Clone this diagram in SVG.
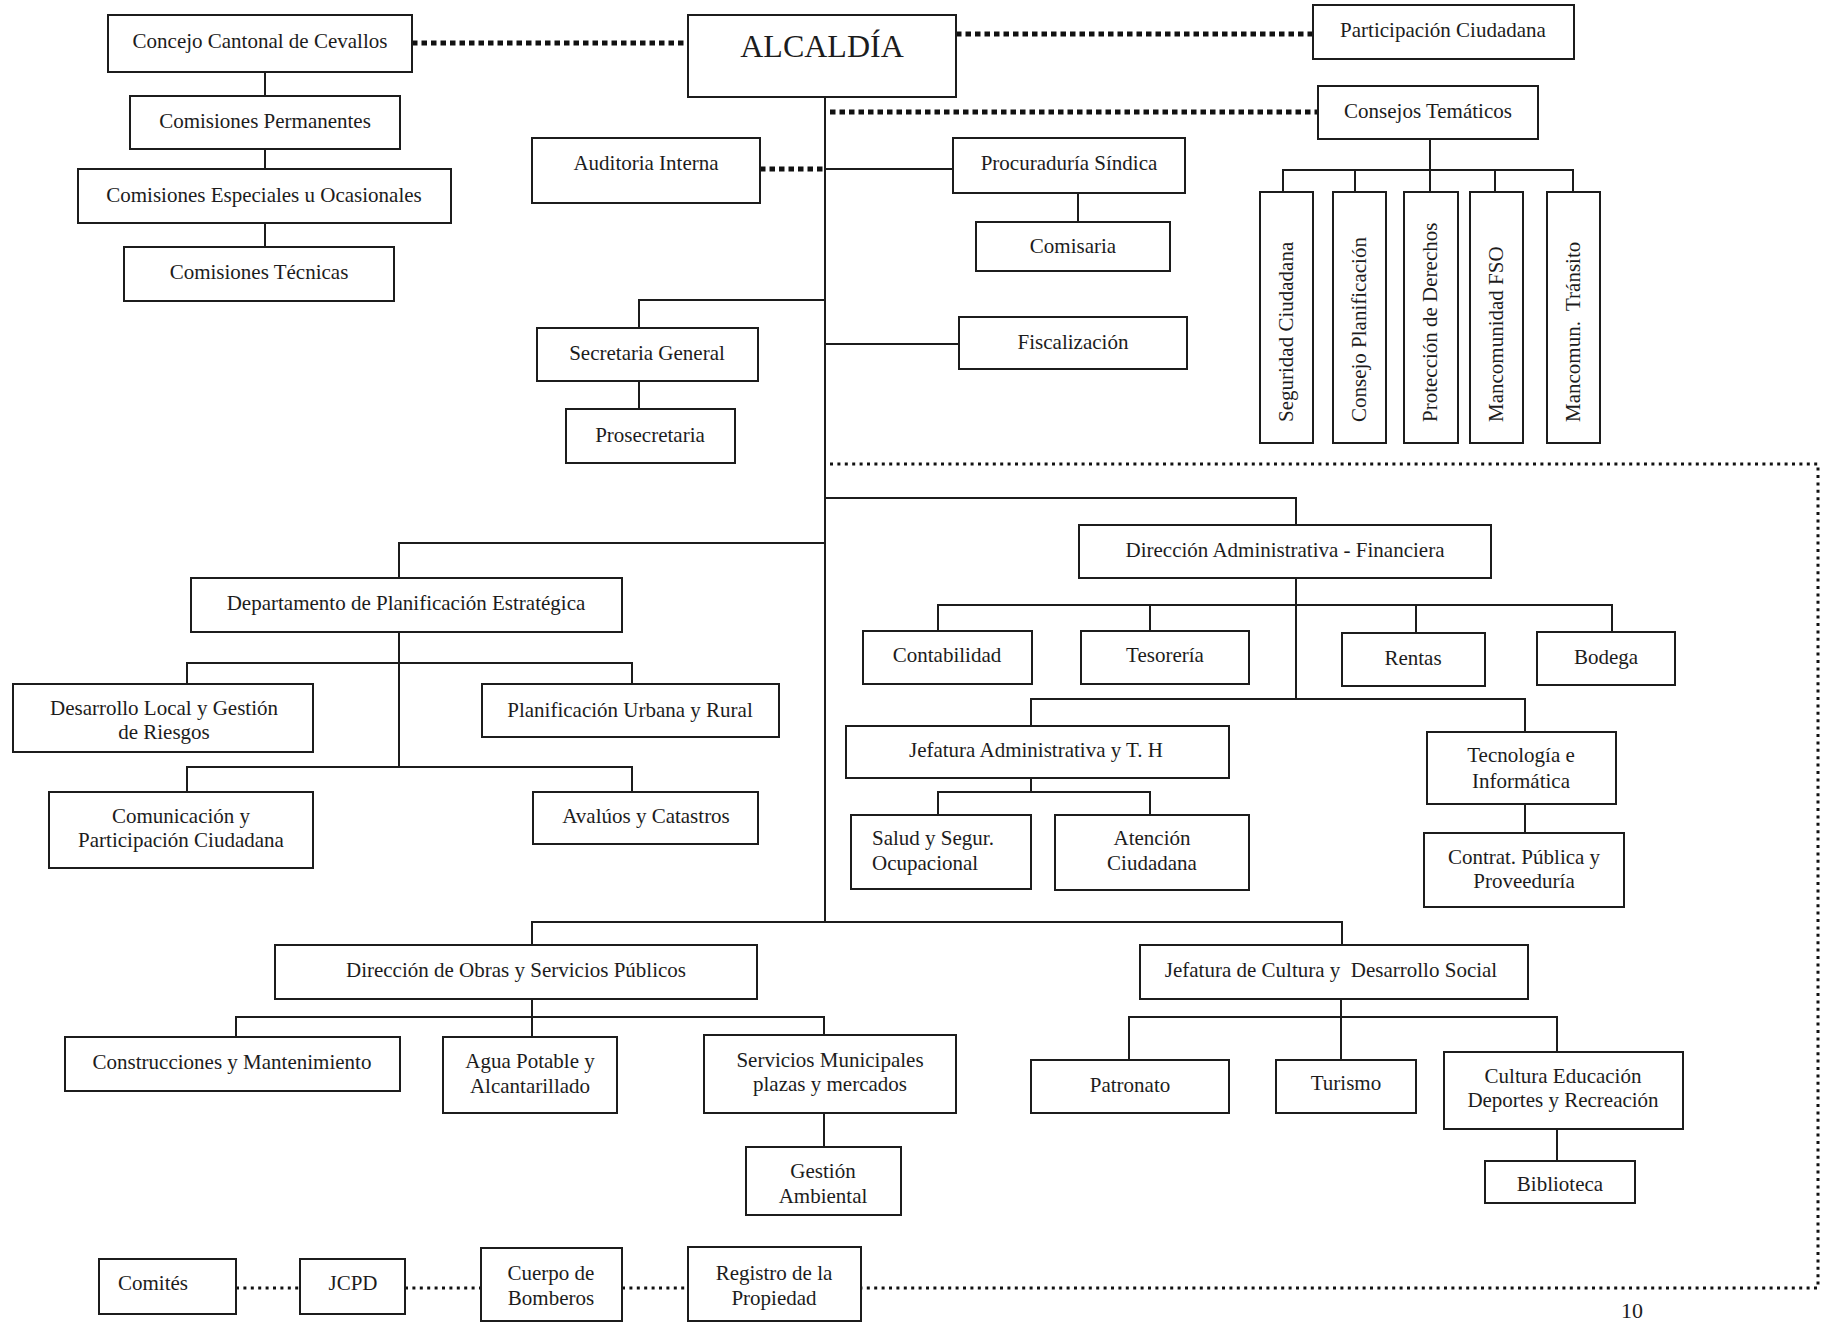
<svg xmlns="http://www.w3.org/2000/svg" width="1822" height="1323" viewBox="0 0 1822 1323">
<style>
.box{fill:#fff;stroke:#1c1c1c;stroke-width:2}
text{font-family:"Liberation Serif","Times New Roman",serif;font-size:21px;fill:#1c1c1c;text-anchor:middle}
.big{font-size:32px}
.v{text-anchor:start;white-space:pre}
.pre{white-space:pre}
.ln{stroke:#1c1c1c;stroke-width:2;fill:none}
.dotB{stroke:#111;stroke-width:5;stroke-dasharray:5.5 4;fill:none}
.dotS{stroke:#111;stroke-width:3;stroke-dasharray:3 4.4;fill:none}
</style>
<rect width="1822" height="1323" fill="#fff"/>
<g id="connectors">
<line class="dotB" x1="412" y1="43" x2="688" y2="43"/>
<line class="dotB" x1="956" y1="34" x2="1313" y2="34"/>
<line class="dotB" x1="830" y1="112" x2="1318" y2="112"/>
<line class="dotB" x1="760" y1="169" x2="825" y2="169"/>
<path class="dotS" d="M830 464 H1818 V1288 H861"/>
<line class="dotS" x1="236" y1="1288" x2="300" y2="1288"/>
<line class="dotS" x1="405" y1="1288" x2="481" y2="1288"/>
<line class="dotS" x1="622" y1="1288" x2="688" y2="1288"/>
<path class="ln" d="M265 72 V96 M265 149 V169 M265 223 V247"/>
<path class="ln" d="M825 97 V922"/>
<path class="ln" d="M825 169 H953 M1078 193 V222 M825 344 H959"/>
<path class="ln" d="M825 300 H639 V328 M639 381 V409"/>
<path class="ln" d="M1430 139 V170 M1283 192 V170 H1573 V192 M1355 170 V192 M1430 170 V192 M1495 170 V192"/>
<path class="ln" d="M825 543 H399 V578 M399 632 V767 M187 684 V663 H632 V684 M187 792 V767 H632 V792"/>
<path class="ln" d="M825 498 H1296 V525 M1296 578 V699 M938 631 V605 H1612 V632 M1150 605 V631 M1416 605 V633"/>
<path class="ln" d="M1031 726 V699 H1525 V732 M1031 778 V792 M938 815 V792 H1150 V815 M1525 804 V833"/>
<path class="ln" d="M532 945 V922 H1342 V945"/>
<path class="ln" d="M532 999 V1017 M236 1037 V1017 H824 V1035 M532 1017 V1037 M824 1113 V1147"/>
<path class="ln" d="M1341 999 V1060 M1129 1060 V1017 H1557 V1052 M1557 1129 V1161"/>
</g>
<g id="concejo"><rect class="box" x="108" y="15" width="304" height="57"/><text x="260" y="48">Concejo Cantonal de Cevallos</text></g>
<g id="alcaldia"><rect class="box" x="688" y="15" width="268" height="82"/><text class="big" x="822" y="57">ALCALDÍA</text></g>
<g id="participacion"><rect class="box" x="1313" y="5" width="261" height="54"/><text x="1443" y="37">Participación Ciudadana</text></g>
<g id="comisiones-permanentes"><rect class="box" x="130" y="96" width="270" height="53"/><text x="265" y="128">Comisiones Permanentes</text></g>
<g id="comisiones-especiales"><rect class="box" x="78" y="169" width="373" height="54"/><text x="264" y="202">Comisiones Especiales u Ocasionales</text></g>
<g id="comisiones-tecnicas"><rect class="box" x="124" y="247" width="270" height="54"/><text x="259" y="279">Comisiones Técnicas</text></g>
<g id="auditoria"><rect class="box" x="532" y="138" width="228" height="65"/><text x="646" y="170">Auditoria Interna</text></g>
<g id="procuraduria"><rect class="box" x="953" y="138" width="232" height="55"/><text x="1069" y="170">Procuraduría Síndica</text></g>
<g id="consejos"><rect class="box" x="1318" y="86" width="220" height="53"/><text x="1428" y="118">Consejos Temáticos</text></g>
<g id="comisaria"><rect class="box" x="976" y="222" width="194" height="49"/><text x="1073" y="253">Comisaria</text></g>
<g id="fiscalizacion"><rect class="box" x="959" y="317" width="228" height="52"/><text x="1073" y="349">Fiscalización</text></g>
<g id="secretaria"><rect class="box" x="537" y="328" width="221" height="53"/><text x="647" y="360">Secretaria General</text></g>
<g id="prosecretaria"><rect class="box" x="566" y="409" width="169" height="54"/><text x="650" y="442">Prosecretaria</text></g>
<g id="seguridad"><rect class="box" x="1260" y="192" width="53" height="251"/><text class="v" transform="translate(1292.5,422) rotate(-90)">Seguridad Ciudadana</text></g>
<g id="consejo-planificacion"><rect class="box" x="1333" y="192" width="53" height="251"/><text class="v" transform="translate(1365.5,422) rotate(-90)">Consejo Planificación</text></g>
<g id="proteccion"><rect class="box" x="1404" y="192" width="54" height="251"/><text class="v" transform="translate(1437,422) rotate(-90)">Protección de Derechos</text></g>
<g id="mancomunidad"><rect class="box" x="1470" y="192" width="53" height="251"/><text class="v" transform="translate(1502.5,422) rotate(-90)">Mancomunidad FSO</text></g>
<g id="transito"><rect class="box" x="1547" y="192" width="53" height="251"/><text class="v" transform="translate(1579.5,422) rotate(-90)">Mancomun.  Tránsito</text></g>
<g id="departamento"><rect class="box" x="191" y="578" width="431" height="54"/><text x="406" y="610">Departamento de Planificación Estratégica</text></g>
<g id="desarrollo"><rect class="box" x="13" y="684" width="300" height="68"/><text x="164" y="715">Desarrollo Local y Gestión</text><text x="164" y="739">de Riesgos</text></g>
<g id="planificacion-urbana"><rect class="box" x="482" y="684" width="297" height="53"/><text x="630" y="717">Planificación Urbana y Rural</text></g>
<g id="comunicacion"><rect class="box" x="49" y="792" width="264" height="76"/><text x="181" y="823">Comunicación y</text><text x="181" y="847">Participación Ciudadana</text></g>
<g id="avaluos"><rect class="box" x="533" y="792" width="225" height="52"/><text x="646" y="823">Avalúos y Catastros</text></g>
<g id="dir-admin"><rect class="box" x="1079" y="525" width="412" height="53"/><text x="1285" y="557">Dirección Administrativa - Financiera</text></g>
<g id="contabilidad"><rect class="box" x="863" y="631" width="169" height="53"/><text x="947" y="662">Contabilidad</text></g>
<g id="tesoreria"><rect class="box" x="1081" y="631" width="168" height="53"/><text x="1165" y="662">Tesorería</text></g>
<g id="rentas"><rect class="box" x="1342" y="633" width="143" height="53"/><text x="1413" y="665">Rentas</text></g>
<g id="bodega"><rect class="box" x="1537" y="632" width="138" height="53"/><text x="1606" y="664">Bodega</text></g>
<g id="jefatura-admin"><rect class="box" x="846" y="726" width="383" height="52"/><text x="1036" y="757">Jefatura Administrativa y T. H</text></g>
<g id="tecnologia"><rect class="box" x="1427" y="732" width="189" height="72"/><text x="1521" y="762">Tecnología e</text><text x="1521" y="788">Informática</text></g>
<g id="salud"><rect class="box" x="851" y="815" width="180" height="74"/><text x="872" y="845" style="text-anchor:start">Salud y Segur.</text><text x="872" y="870" style="text-anchor:start">Ocupacional</text></g>
<g id="atencion"><rect class="box" x="1055" y="815" width="194" height="75"/><text x="1152" y="845">Atención</text><text x="1152" y="870">Ciudadana</text></g>
<g id="contrat"><rect class="box" x="1424" y="833" width="200" height="74"/><text x="1524" y="864">Contrat. Pública y</text><text x="1524" y="888">Proveeduría</text></g>
<g id="dir-obras"><rect class="box" x="275" y="945" width="482" height="54"/><text x="516" y="977">Dirección de Obras y Servicios Públicos</text></g>
<g id="jefatura-cultura"><rect class="box" x="1140" y="945" width="388" height="54"/><text class="pre" x="1331" y="977">Jefatura de Cultura y  Desarrollo Social</text></g>
<g id="construcciones"><rect class="box" x="65" y="1037" width="335" height="54"/><text x="232" y="1069">Construcciones y Mantenimiento</text></g>
<g id="agua"><rect class="box" x="443" y="1037" width="174" height="76"/><text x="530" y="1068">Agua Potable y</text><text x="530" y="1093">Alcantarillado</text></g>
<g id="servicios"><rect class="box" x="704" y="1035" width="252" height="78"/><text x="830" y="1067">Servicios Municipales</text><text x="830" y="1091">plazas y mercados</text></g>
<g id="gestion"><rect class="box" x="746" y="1147" width="155" height="68"/><text x="823" y="1178">Gestión</text><text x="823" y="1203">Ambiental</text></g>
<g id="patronato"><rect class="box" x="1031" y="1060" width="198" height="53"/><text x="1130" y="1092">Patronato</text></g>
<g id="turismo"><rect class="box" x="1276" y="1060" width="140" height="53"/><text x="1346" y="1090">Turismo</text></g>
<g id="cultura-educacion"><rect class="box" x="1444" y="1052" width="239" height="77"/><text x="1563" y="1083">Cultura Educación</text><text x="1563" y="1107">Deportes y Recreación</text></g>
<g id="biblioteca"><rect class="box" x="1485" y="1161" width="150" height="42"/><text x="1560" y="1191">Biblioteca</text></g>
<g id="comites"><rect class="box" x="99" y="1259" width="137" height="55"/><text x="153" y="1290">Comités</text></g>
<g id="jcpd"><rect class="box" x="300" y="1259" width="105" height="55"/><text x="353" y="1290">JCPD</text></g>
<g id="cuerpo-bomberos"><rect class="box" x="481" y="1248" width="141" height="73"/><text x="551" y="1280">Cuerpo de</text><text x="551" y="1305">Bomberos</text></g>
<g id="registro"><rect class="box" x="688" y="1247" width="173" height="74"/><text x="774" y="1280">Registro de la</text><text x="774" y="1305">Propiedad</text></g>
<text x="1632" y="1318" style="font-size:22px">10</text>
</svg>
